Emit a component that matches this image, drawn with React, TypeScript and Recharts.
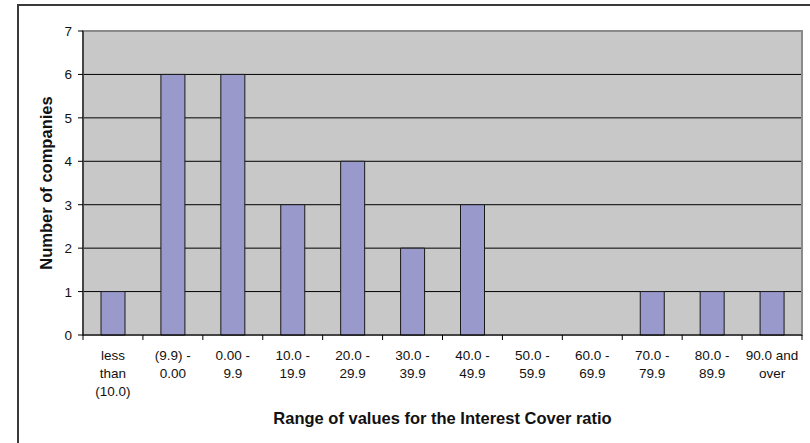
import { BarChart, Bar, XAxis, YAxis, CartesianGrid, ReferenceArea, Label } from 'recharts'

// interest cover ratio buckets and how many companies fall in each
const categories = [
  'less than (10.0)', '(9.9) - 0.00', '0.00 - 9.9', '10.0 - 19.9', '20.0 - 29.9', '30.0 - 39.9',
  '40.0 - 49.9', '50.0 - 59.9', '60.0 - 69.9', '70.0 - 79.9', '80.0 - 89.9', '90.0 and over',
]
const tickLines = [
  ['less', 'than', '(10.0)'], ['(9.9) -', '0.00'], ['0.00 -', '9.9'], ['10.0 -', '19.9'],
  ['20.0 -', '29.9'], ['30.0 -', '39.9'], ['40.0 -', '49.9'], ['50.0 -', '59.9'],
  ['60.0 -', '69.9'], ['70.0 -', '79.9'], ['80.0 -', '89.9'], ['90.0 and', 'over'],
]
const companies = [1, 6, 6, 3, 4, 2, 3, 0, 0, 1, 1, 1]
const yTicks = [0, 1, 2, 3, 4, 5, 6, 7]
const gridValues = [1, 2, 3, 4, 5, 6]

const W = 810
const H = 443
const PLOT_LEFT = 83
const PLOT_RIGHT = 802
const PLOT_BOTTOM = 335
const BAND = (PLOT_RIGHT - PLOT_LEFT) / categories.length
const FONT = '"Liberation Sans", Arial, sans-serif'
const INK = '#111'
const TICK_FONT = 13.5

const data = categories.map((c, i) => ({ range: c, count: companies[i] }))

// tick marks sit on the band edges, labels centred under each bar
function CategoryTick(props: any) {
  const { x, y, index } = props
  const lines = tickLines[index] || []
  const left = x - BAND / 2
  const right = x + BAND / 2
  return (
    <g>
      <line x1={left} x2={left} y1={y} y2={y + 5} stroke="#000" />
      {index === categories.length - 1 && <line x1={right} x2={right} y1={y} y2={y + 5} stroke="#000" />}
      <text x={x} y={y + 25} textAnchor="middle" fontSize={TICK_FONT} fill={INK} fontFamily={FONT}>
        {lines.map((l, i) => (
          <tspan key={i} x={x} dy={i === 0 ? 0 : 18}>{l}</tspan>
        ))}
      </text>
    </g>
  )
}

function CountTick(props: any) {
  const { x, y, payload } = props
  return (
    <text x={x} y={y + 5} textAnchor="end" fontSize={TICK_FONT} fill={INK} fontFamily={FONT}>
      {payload.value}
    </text>
  )
}

function YTitle(props: any) {
  const vb = props.viewBox || {}
  const cy = vb.y + vb.height / 2
  return (
    <text x={52} y={cy} transform={`rotate(-90, 52, ${cy})`} textAnchor="middle"
      fontSize={16.5} fontWeight="bold" fill={INK} fontFamily={FONT}>
      Number of companies
    </text>
  )
}

function XTitle(props: any) {
  const vb = props.viewBox || {}
  const cx = vb.x + vb.width / 2
  return (
    <text x={cx} y={424} textAnchor="middle" fontSize={16.5} fontWeight="bold" fill={INK} fontFamily={FONT}>
      Range of values for the Interest Cover ratio
    </text>
  )
}

export default function App() {
  return (
    <div style={{ position: 'absolute', left: 0, top: 0, width: W, height: H, overflow: 'hidden', background: '#fff' }}>
      <div style={{ position: 'absolute', left: 17, top: 4, width: 900, height: 500, border: '2px solid #3a3a3a' }} />
      <div style={{ position: 'absolute', left: 0, top: 0 }}>
        <BarChart width={W} height={H} data={data} margin={{ top: 31, right: W - PLOT_RIGHT, bottom: 0, left: 0 }}>
          <CartesianGrid vertical={false} stroke="#000" fill="#C8C8C8" horizontalValues={gridValues} />
          <ReferenceArea y1={0} y2={7} fill="none" stroke="#8a8a8a" strokeWidth={2} ifOverflow="visible" />
          <XAxis dataKey="range" height={H - PLOT_BOTTOM} interval={0} tickSize={0} tickMargin={0}
            tickLine={false} axisLine={{ stroke: '#000' }} tick={<CategoryTick />}>
            <Label content={<XTitle />} />
          </XAxis>
          <YAxis width={PLOT_LEFT} domain={[0, 7]} ticks={yTicks} interval={0} tickSize={5} tickMargin={6}
            axisLine={{ stroke: '#000' }} tickLine={{ stroke: '#000' }} tick={<CountTick />}>
            <Label content={<YTitle />} />
          </YAxis>
          <Bar dataKey="count" fill="#9999CC" stroke="#1a1a1a" strokeWidth={1} barSize={24} isAnimationActive={false} />
        </BarChart>
      </div>
    </div>
  )
}
